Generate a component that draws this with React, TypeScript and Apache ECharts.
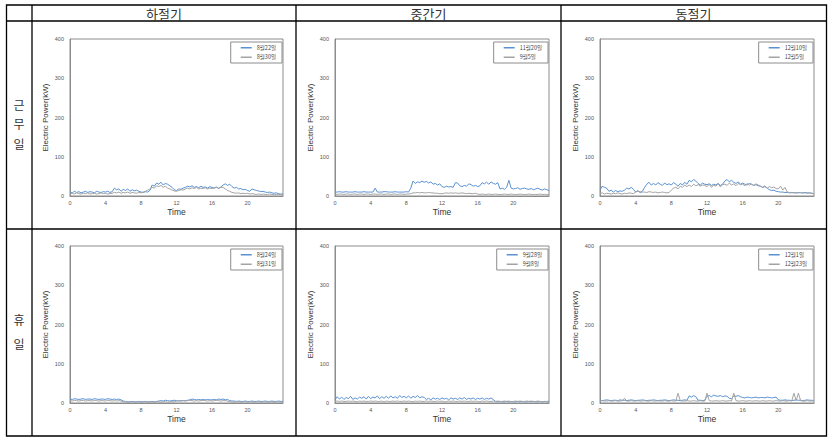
import { useEffect, useRef } from "react";
import * as echarts from "echarts";

// Sample times (hours), every 15 minutes
const HOURS: number[] = Array.from({ length: 97 }, (_, i) => i / 4);

const COLUMN_TITLES = ["하절기", "중간기", "동절기"];
const ROW_TITLES = [["근", "무", "일"], ["휴", "일"]];
const X_TICKS = [0, 4, 8, 12, 16, 20];

// Row 1 (근무일)
const SUMMER_WORK_NAMES = ["8월22일", "8월30일"];
const SUMMER_WORK_A = [10,8,12,9,11,8,10,12,9,11,10,8,12,10,9,11,10,12,9,11,20,16,18,12,17,14,18,12,16,13,15,12,10,9,11,10,14,28,25,33,30,35,28,32,30,26,22,16,14,18,17,20,22,25,23,26,22,24,21,25,22,23,20,24,22,20,22,19,23,28,31,27,30,24,20,22,18,19,16,17,14,12,18,16,14,13,11,12,10,9,10,8,7,8,6,5,5];
const SUMMER_WORK_B = [6,7,5,8,6,5,7,6,8,5,6,7,5,6,8,6,7,5,6,7,9,8,10,7,9,8,10,7,9,8,7,9,8,10,12,15,18,22,20,26,24,27,22,25,20,18,15,13,12,14,16,15,18,20,18,21,19,22,18,20,19,21,18,20,19,21,23,20,22,22,18,14,12,9,8,7,8,6,7,6,7,5,6,5,4,5,4,5,4,4,5,4,3,4,4,3,4];

const MID_WORK_NAMES = ["11월20일", "9월5일"];
const MID_WORK_A = [10,10,11,10,10,11,10,10,10,11,10,10,10,11,10,10,10,10,20,10,10,10,11,11,10,10,10,11,10,10,10,10,11,10,20,38,32,36,34,38,35,37,33,36,30,32,28,31,24,22,25,23,24,22,34,33,26,24,27,25,31,29,25,27,24,26,34,31,35,30,36,32,30,34,18,20,17,22,40,20,18,19,21,17,19,20,18,17,19,16,18,20,17,15,18,16,14];
const MID_WORK_B = [5,4,5,5,4,5,5,4,5,5,4,5,5,4,5,5,4,5,5,4,5,5,4,5,5,4,5,5,4,5,5,4,5,5,6,8,8,9,8,9,8,8,9,8,8,7,7,6,6,7,8,7,8,7,8,7,7,8,7,6,7,6,6,7,5,4,5,4,4,5,4,4,5,4,4,4,5,4,4,5,4,4,4,5,4,4,4,5,4,4,4,4,5,4,4,4,4];

const WINTER_WORK_NAMES = ["12월10일", "12월5일"];
const WINTER_WORK_A = [15,25,22,20,12,15,10,14,11,13,12,15,20,18,22,17,10,14,8,12,22,30,35,28,32,28,34,30,27,33,29,31,28,34,30,25,32,28,35,30,40,36,42,38,32,28,33,30,29,31,27,30,28,32,27,30,38,42,36,40,35,32,36,30,33,30,28,32,30,27,29,26,25,22,24,20,16,14,15,12,11,10,10,9,9,8,9,8,8,9,8,8,9,8,8,7,6];
const WINTER_WORK_B = [6,8,5,7,6,5,7,6,8,6,5,7,6,8,7,6,10,12,11,10,10,9,11,10,9,10,8,9,10,9,8,9,15,20,22,18,25,22,28,24,28,24,30,26,29,25,28,27,24,30,22,28,25,32,23,29,30,27,33,28,31,26,32,29,30,26,32,28,30,27,31,28,25,22,26,20,24,21,23,19,18,25,15,22,10,9,8,9,8,8,9,8,8,7,8,7,6];

// Row 2 (휴일)
const SUMMER_HOLI_NAMES = ["8월24일", "8월31일"];
const SUMMER_HOLI_A = [10,9,11,10,9,10,11,9,10,10,9,11,10,9,10,10,9,11,10,9,10,9,10,8,5,4,3,3,4,3,3,4,3,3,4,3,3,4,3,4,5,6,5,7,6,5,6,7,6,5,6,6,6,7,8,10,9,8,9,8,9,8,9,8,8,9,8,10,9,10,8,9,6,5,5,4,5,4,4,5,4,4,5,4,4,5,4,4,5,4,4,5,4,4,5,4,4];
const SUMMER_HOLI_B = [6,5,7,6,5,6,7,5,6,6,5,7,6,5,6,6,5,7,6,5,6,5,6,5,3,3,2,3,3,2,3,3,2,3,3,2,3,3,2,3,3,2,3,3,2,3,3,3,5,6,5,6,5,6,7,6,5,6,5,6,7,6,5,6,5,6,7,6,5,6,6,5,3,3,2,3,3,2,3,3,2,3,3,2,3,3,2,3,3,2,3,3,2,3,3,2,3];

const MID_HOLI_NAMES = ["9월28일", "9월8일"];
const MID_HOLI_A = [8,16,10,15,9,14,11,17,9,13,10,15,12,16,10,17,11,15,13,18,11,16,12,17,12,18,13,16,12,19,14,17,13,18,12,17,14,19,13,16,14,9,12,8,13,10,12,9,13,10,12,8,13,10,12,9,13,10,14,9,12,10,13,9,12,10,13,9,12,10,13,9,4,3,4,3,3,4,3,4,3,3,4,3,4,3,3,4,3,4,3,3,4,3,4,3,3];
const MID_HOLI_B = [4,5,4,5,4,4,5,4,5,4,3,5,4,5,4,4,5,4,5,4,4,5,3,5,4,4,5,4,5,4,4,5,4,5,4,3,5,4,5,4,4,5,4,5,4,4,5,4,5,3,4,5,4,5,4,4,5,4,5,4,4,5,4,5,4,3,5,4,5,4,4,5,4,5,4,4,5,4,5,3,4,5,4,5,4,4,5,4,5,4,4,5,4,3,4,4,5];

const WINTER_HOLI_NAMES = ["12월1일", "12월23일"];
const WINTER_HOLI_A = [7,6,7,8,7,6,7,7,6,8,7,7,6,7,8,7,6,7,7,8,7,6,7,7,8,7,6,7,7,8,7,6,7,8,7,7,6,7,8,7,18,15,19,16,7,7,6,7,17,19,16,20,18,17,19,16,18,17,12,11,18,17,19,16,14,13,15,14,13,14,15,13,14,14,13,15,14,13,14,15,8,7,7,8,7,7,6,7,8,7,7,6,7,8,7,7,6];
const WINTER_HOLI_B = [5,6,5,5,6,5,5,6,5,5,6,12,5,5,6,5,5,6,5,5,6,5,5,6,5,5,6,5,5,6,5,5,6,5,5,25,6,5,5,6,5,5,6,5,5,6,5,5,25,6,5,5,6,5,5,6,5,5,6,5,25,6,5,5,6,5,5,6,5,5,6,5,5,6,5,5,6,5,5,6,5,5,6,5,5,6,5,25,6,25,6,5,5,6,5,5,6];

const PANELS = [
  { names: SUMMER_WORK_NAMES, a: SUMMER_WORK_A, b: SUMMER_WORK_B },
  { names: MID_WORK_NAMES, a: MID_WORK_A, b: MID_WORK_B },
  { names: WINTER_WORK_NAMES, a: WINTER_WORK_A, b: WINTER_WORK_B },
  { names: SUMMER_HOLI_NAMES, a: SUMMER_HOLI_A, b: SUMMER_HOLI_B },
  { names: MID_HOLI_NAMES, a: MID_HOLI_A, b: MID_HOLI_B },
  { names: WINTER_HOLI_NAMES, a: WINTER_HOLI_A, b: WINTER_HOLI_B },
];

const W = 829;
const H = 441;
const GRID_LEFTS = [70, 335, 600];
const GRID_WIDTHS = [213, 214, 214];
const GRID_TOPS = [39, 246];
const GRID_H = 157;
const BLUE = "#5a91d2";
const GRAY = "#a3a3a3";
const AXIS_FONT = "'Liberation Sans', Arial, sans-serif";
const KR_FONT = "'Noto Sans CJK KR', sans-serif";

export default function App() {
  const ref = useRef<HTMLDivElement>(null);
  useEffect(() => {
    if (!ref.current) return;
    const chart = echarts.init(ref.current, undefined, { renderer: "svg" });
    const grids: any[] = [];
    const xAxes: any[] = [];
    const yAxes: any[] = [];
    const legends: any[] = [];
    const series: any[] = [];
    PANELS.forEach((p, idx) => {
      const r = Math.floor(idx / 3);
      const c = idx % 3;
      const left = GRID_LEFTS[c];
      const width = GRID_WIDTHS[c];
      const top = GRID_TOPS[r];
      grids.push({
        left, top, width, height: GRID_H,
        show: true, borderColor: "#8c8c8c", borderWidth: 1, backgroundColor: "#fff",
      });
      xAxes.push({
        type: "value", gridIndex: idx, min: 0, max: 24, interval: 4,
        name: "Time", nameLocation: "middle", nameGap: 11,
        nameTextStyle: { fontFamily: AXIS_FONT, fontSize: 8.5, color: "#333" },
        axisLine: { show: true, lineStyle: { color: "#8c8c8c" } },
        axisTick: { show: false },
        splitLine: { show: false },
        axisLabel: {
          fontSize: 5.5, color: "#555", fontFamily: AXIS_FONT, margin: 4,
          formatter: (v: number) => (X_TICKS.includes(v) ? String(v) : ""),
        },
      });
      yAxes.push({
        type: "value", gridIndex: idx, min: 0, max: 400, interval: 100,
        name: "Electric Power(kW)", nameLocation: "middle", nameGap: 21, nameRotate: 90,
        nameTextStyle: { fontFamily: AXIS_FONT, fontSize: 8, color: "#333" },
        axisLine: { show: true, lineStyle: { color: "#8c8c8c" } },
        axisTick: { show: false },
        splitLine: { show: false },
        axisLabel: { fontSize: 5.5, color: "#555", fontFamily: AXIS_FONT, margin: 6 },
      });
      legends.push({
        data: p.names,
        orient: "vertical",
        right: W - (left + width) + 1,
        top: top + 3,
        itemWidth: 11,
        itemHeight: 1.5,
        itemGap: 4,
        icon: "rect",
        padding: [3, 6, 3, 10],
        borderColor: "#8c8c8c",
        borderWidth: 1,
        backgroundColor: "#fff",
        selectedMode: false,
        textStyle: { fontSize: 5.5, color: "#444", fontFamily: KR_FONT, padding: [0, 0, 0, 0] },
      });
      [p.a, p.b].forEach((vals, k) => {
        series.push({
          type: "line",
          name: p.names[k],
          xAxisIndex: idx,
          yAxisIndex: idx,
          data: vals.map((v, i) => [HOURS[i], v]),
          showSymbol: false,
          symbol: "none",
          lineStyle: { width: 1, color: k === 0 ? BLUE : GRAY },
          itemStyle: { color: k === 0 ? BLUE : GRAY },
          z: 2 + k,
        });
      });
    });

    const lineStyle = { stroke: "#000", lineWidth: 1.3 };
    const tableLines: any[] = [
      { type: "rect", shape: { x: 6.5, y: 5, width: 820, height: 431 }, style: { fill: "none", stroke: "#000", lineWidth: 1.3 } },
      { type: "line", shape: { x1: 6.5, y1: 21, x2: 826.5, y2: 21 }, style: lineStyle },
      { type: "line", shape: { x1: 6.5, y1: 229, x2: 826.5, y2: 229 }, style: lineStyle },
      { type: "line", shape: { x1: 32, y1: 5, x2: 32, y2: 436 }, style: lineStyle },
      { type: "line", shape: { x1: 296, y1: 5, x2: 296, y2: 436 }, style: lineStyle },
      { type: "line", shape: { x1: 561, y1: 5, x2: 561, y2: 436 }, style: lineStyle },
    ];
    const colCenters = [164, 428.5, 693.5];
    const headers = COLUMN_TITLES.map((t, i) => ({
      type: "text",
      x: colCenters[i], y: 13,
      style: { text: t, fontSize: 13, fontFamily: KR_FONT, fill: "#333", align: "center", verticalAlign: "middle" },
    }));
    const rowYs = [[104, 123, 143], [319, 343]];
    const rowTexts: any[] = [];
    ROW_TITLES.forEach((chars, r) => {
      chars.forEach((ch, j) => {
        rowTexts.push({
          type: "text", x: 19, y: rowYs[r][j],
          style: { text: ch, fontSize: 12, fontFamily: KR_FONT, fill: "#333", align: "center", verticalAlign: "middle" },
        });
      });
    });

    chart.setOption({
      animation: false,
      backgroundColor: "#fff",
      grid: grids,
      xAxis: xAxes,
      yAxis: yAxes,
      legend: legends,
      series,
      graphic: [...tableLines, ...headers, ...rowTexts],
    });
    return () => chart.dispose();
  }, []);
  return <div ref={ref} style={{ position: "absolute", left: 0, top: 0, width: W, height: H }} />;
}
